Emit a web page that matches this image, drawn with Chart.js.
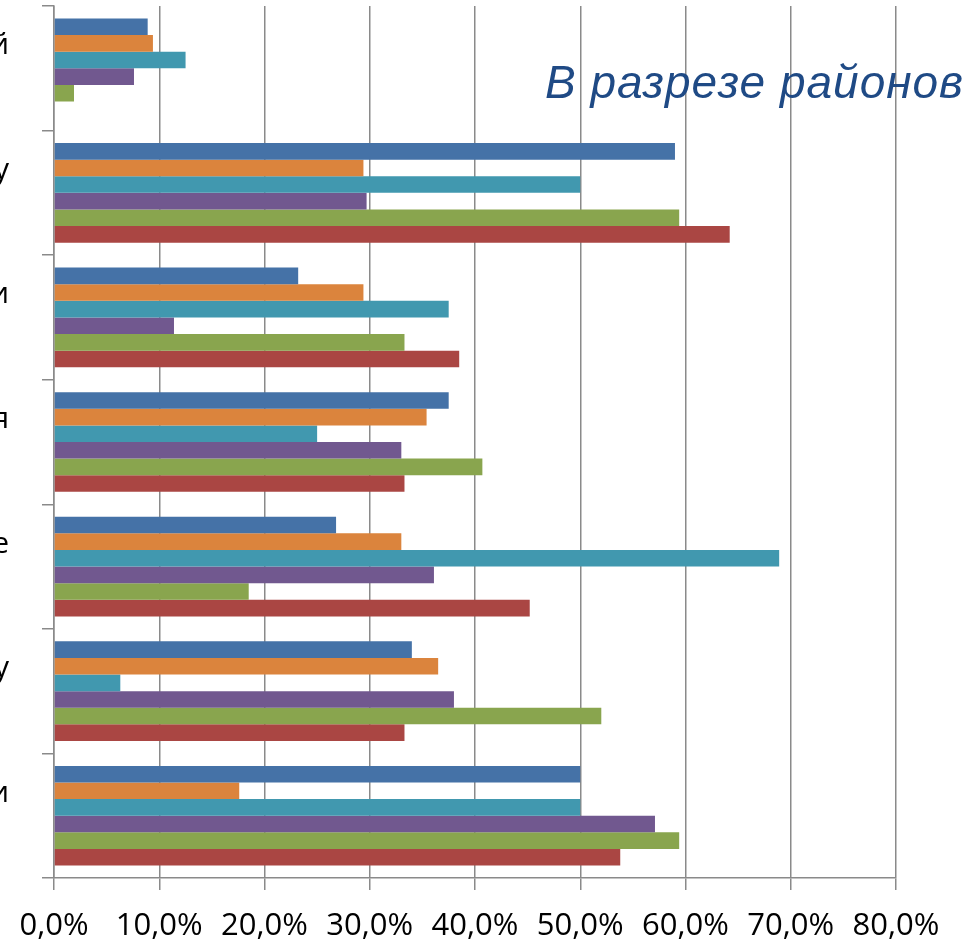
<!DOCTYPE html>
<html>
<head>
<meta charset="utf-8">
<script src="https://cdn.jsdelivr.net/npm/chart.js@4"></script>
<style>
  body { margin: 0; background: #fff; }
  #wrap { position: relative; width: 967px; height: 945px; overflow: hidden; }
  #title {
    position: absolute; left: 545px; top: 59px;
    font: italic 46px "Liberation Sans", Arial, sans-serif;
    letter-spacing: 1px;
    line-height: 1; color: #1F4A85; white-space: nowrap;
  }
</style>
</head>
<body>
<div id="wrap">
  <canvas id="chart" width="967" height="945"></canvas>
  <div id="title">В разрезе районов</div>
</div>
<script>
// category labels (only the ends are visible in the picture)
const categories = ["й", "у", "и", "я", "е", "у", "и"];

// x axis tick labels, 0..80 step 10
const xTicks = [0, 10, 20, 30, 40, 50, 60, 70, 80];
const xTickLabels = ["0,0%", "10,0%", "20,0%", "30,0%", "40,0%", "50,0%", "60,0%", "70,0%", "80,0%"];

// series values, %
const series1 = [8.9, 59.0, 23.2, 37.5, 26.8, 34.0, 50.0];
const series2 = [9.4, 29.4, 29.4, 35.4, 33.0, 36.5, 17.6];
const series3 = [12.5, 50.0, 37.5, 25.0, 68.9, 6.3, 50.0];
const series4 = [7.6, 29.7, 11.4, 33.0, 36.1, 38.0, 57.1];
const series5 = [1.9, 59.4, 33.3, 40.7, 18.5, 52.0, 59.4];
const series6 = [null, 64.2, 38.5, 33.3, 45.2, 33.3, 53.8];

const colors = ["#4572A7", "#DB843D", "#4198AF", "#71588F", "#89A54E", "#AA4643"];
const allSeries = [series1, series2, series3, series4, series5, series6];

const gridColor = "#8a8a8a";

var ctx = document.getElementById("chart").getContext("2d");
var myChart = new Chart(ctx, {
  type: "bar",
  data: {
    // two lines so the visible letter sits above the category middle
    labels: categories.map(function (c) { return [c, ""]; }),
    datasets: allSeries.map(function (s, i) {
      return {
        label: "Ряд " + (i + 1),
        data: s,
        backgroundColor: colors[i],
        borderWidth: 0,
        categoryPercentage: 0.8,
        barPercentage: 1.0,
      };
    }),
  },
  options: {
    indexAxis: "y",
    responsive: false,
    animation: false,
    layout: { padding: { top: 6, right: 71, bottom: 0, left: 0 } },
    plugins: {
      legend: { display: false },
      tooltip: { enabled: false },
    },
    scales: {
      x: {
        min: 0,
        max: 80,
        afterBuildTicks: function (axis) {
          axis.ticks = xTicks.map(function (v) { return { value: v }; });
        },
        afterFit: function (axis) { axis.height = 67; },
        grid: { color: gridColor, lineWidth: 1.5, tickLength: 12 },
        border: { color: gridColor, width: 1.5 },
        ticks: {
          padding: 18,
          color: "#000",
          font: { family: "'Open Sans'", size: 31 },
          maxRotation: 0,
          callback: function (value) { return xTickLabels[xTicks.indexOf(value)]; },
        },
      },
      y: {
        afterFit: function (axis) {
          axis.width = 54;
          // labels are cut at the top/bottom, no extra room for them
          axis.paddingTop = 0;
          axis.paddingBottom = 0;
        },
        grid: { drawOnChartArea: false, color: gridColor, lineWidth: 1.5, tickLength: 12 },
        border: { color: gridColor, width: 1.5 },
        ticks: {
          padding: 33,
          color: "#000",
          font: { family: "'Open Sans'", size: 30, lineHeight: 1.5 },
        },
      },
    },
  },
});
</script>
</body>
</html>
